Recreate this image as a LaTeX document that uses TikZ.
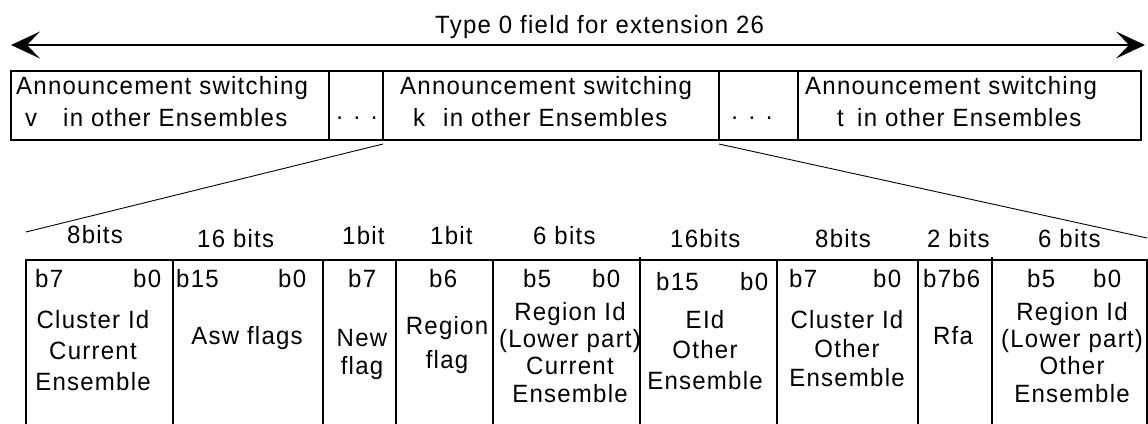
\documentclass[tikz,border=0pt]{standalone}
\usepackage{fontspec}
\setmainfont{Liberation Sans}[LetterSpace=5,FakeStretch=0.96]
\usetikzlibrary{arrows.meta}

\begin{document}
\begin{tikzpicture}[x=1pt,y=-1pt,
    box/.style={draw,line width=2pt,inner sep=0,outer sep=0},
    cell/.style={inner sep=0,outer sep=0,minimum height=163pt},
    rule/.style={line width=2pt,line cap=rect},
    thinline/.style={line width=0.9pt},
    txt/.style={inner sep=0,font=\fontsize{25}{31}\selectfont},
    lbl/.style={txt,align=center,anchor=north}]

\useasboundingbox (0,0) rectangle (1148,423);

% Arrow
\coordinate (al) at (11,45);
\coordinate (ar) at (1145,45);
\draw[line width=2pt,{Stealth[length=29pt,width=27pt,inset=13pt,line width=0pt]}-{Stealth[length=29pt,width=27pt,inset=13pt,line width=0pt]}] (al) -- (ar);
\node[txt,anchor=base west] (title) at (435,33) {Type 0 field for extension 26};

% Upper row
\node[box,minimum width=318pt,minimum height=69pt] (asv) at (170,105.5) {};
\node[box,minimum width=54pt,minimum height=69pt] (dotsl) at (356,105.5) {};
\node[box,minimum width=336pt,minimum height=69pt] (ask) at (551,105.5) {};
\node[box,minimum width=79pt,minimum height=69pt] (dotsr) at (758.5,105.5) {};
\node[box,minimum width=343pt,minimum height=69pt] (ast) at (969.5,105.5) {};

\node[txt,anchor=base west] (asvtop) at (16,94) {Announcement switching};
\node[txt,anchor=base west] (asvv) at (25,126) {v};
\node[txt,anchor=base west] (asvin) at (63,126) {in other Ensembles};
\node[txt,anchor=base west] (asktop) at (400,94) {Announcement switching};
\node[txt,anchor=base west] (askk) at (413,126) {k};
\node[txt,anchor=base west] (askin) at (443,126) {in other Ensembles};
\node[txt,anchor=base west] (asttop) at (805,94) {Announcement switching};
\node[txt,anchor=base west] (astt) at (837,126) {t};
\node[txt,anchor=base west] (astin) at (857,126) {in other Ensembles};

\node[txt,anchor=base] (dotslt) at (357,119) {. . .};
\node[txt,anchor=base] (dotsrt) at (752,119) {. . .};

% Lower row
\foreach \n/\l/\r in {clcur/26/173, asw/173/323, newf/323/396,
    regf/396/493, ridcur/493/640, eid/640/777, cloth/777/918,
    rfa/918/992, ridoth/992/1147}{
    \node[cell,minimum width={(\r-\l)*1pt}] (\n) at ({(\l+\r)/2},341.5) {};
}

\draw[rule] (clcur.north west) -- (ridoth.north east);
\foreach \n in {clcur,asw,newf,regf,ridcur,eid,cloth,rfa,ridoth}{
    \draw[rule] (\n.north west) -- (\n.south west);
}
\draw[rule] (ridoth.north east) -- (ridoth.south east);
\draw[line width=2pt] ([yshift=3pt]eid.north west) -- (eid.north west);
\draw[line width=2pt] ([yshift=3pt]ridoth.north west) -- (ridoth.north west);

% Zoom lines
\coordinate (zl) at (26,232);
\coordinate (zr) at (1147,238);
\draw[thinline] ([yshift=-4pt]ask.south west) -- (zl);
\draw[thinline] ([yshift=-4pt]ask.south east) -- (zr);

% Field sizes
\foreach \x/\y/\t [count=\i] in {67/243/8bits, 197/247/16 bits,
    342/244/1bit, 430/244/1bit, 533/244/6 bits, 670/247/16bits,
    815/247/8bits, 927/247/2 bits, 1038/247/6 bits}{
    \node[txt,anchor=base west] (bits\i) at (\x,\y) {\t};
}

% Bit numbers
\foreach \x/\y/\t [count=\i] in {35/287/b7, 133/287/b0, 176/287/b15,
    278/287/b0, 348/287/b7, 429/287/b6, 523/287/b5, 592/287/b0,
    656/290/b15, 740/290/b0, 789/287/b7, 873/287/b0, 923/287/b7b6,
    1027/287/b5, 1093/287/b0}{
    \node[txt,anchor=base west] (bn\i) at (\x,\y) {\t};
}

% Field names
\node[lbl] (clcurt) at (93,310) {Cluster Id\\Current\\Ensemble};
\node[lbl] (aswt) at (247,326) {Asw flags};
\node[lbl,font=\fontsize{25}{28}\selectfont] (newft) at (362,329) {New\\flag};
\node[lbl,font=\fontsize{25}{34}\selectfont] (regft) at (447,316) {Region\\flag};
\node[lbl,font=\fontsize{25}{27.3}\selectfont] (ridcurt) at (570,302)
    {Region Id\\(Lower part)\\Current\\Ensemble};
\node[lbl,font=\fontsize{25}{30.5}\selectfont] (eidt) at (705,310) {EId\\Other\\Ensemble};
\node[lbl,font=\fontsize{25}{29}\selectfont] (clotht) at (847,310) {Cluster Id\\Other\\Ensemble};
\node[lbl] (rfat) at (953,326) {Rfa};
\node[lbl,font=\fontsize{25}{27.3}\selectfont] (ridotht) at (1072,302)
    {Region Id\\(Lower part)\\Other\\Ensemble};

\end{tikzpicture}
\end{document}
